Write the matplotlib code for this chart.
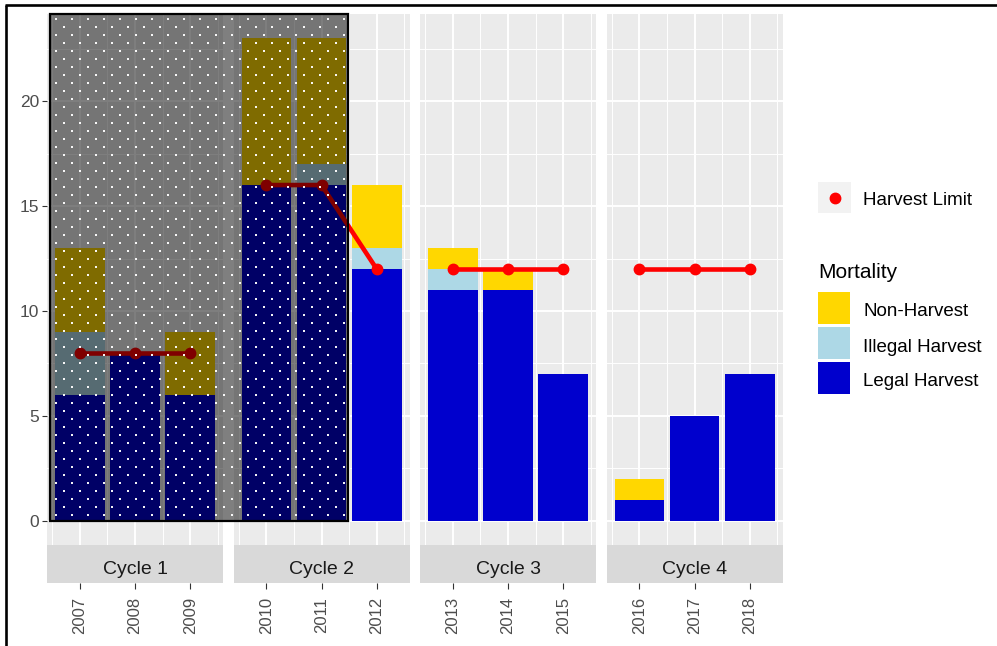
import numpy as np
import matplotlib
matplotlib.use('Agg')
import matplotlib.pyplot as plt
from matplotlib.patches import Rectangle
from matplotlib.ticker import MultipleLocator

plt.rcParams['font.family'] = ['Liberation Sans', 'DejaVu Sans']

# data
years = [2007, 2008, 2009, 2010, 2011, 2012, 2013, 2014, 2015, 2016, 2017, 2018]
cycle_names = ['Cycle 1', 'Cycle 2', 'Cycle 3', 'Cycle 4']
legal = [6, 8, 6, 16, 16, 12, 11, 11, 7, 1, 5, 7]
illegal = [3, 0, 0, 0, 1, 1, 1, 0, 0, 0, 0, 0]
non_harvest = [4, 0, 3, 7, 6, 3, 1, 1, 0, 1, 0, 0]
harvest_limit = [8, 8, 8, 16, 16, 12, 12, 12, 12, 12, 12, 12]

mort_labels = ['Non-Harvest', 'Illegal Harvest', 'Legal Harvest']
mort_colors = ['#FFD700', '#ADD8E6', '#0000CD']

FIG_W, FIG_H = 997, 646
fig = plt.figure(figsize=(FIG_W / 100, FIG_H / 100), dpi=100)
fig.patch.set_facecolor('white')


def px_box(left, top, width, height):
    return [left / FIG_W, 1 - (top + height) / FIG_H, width / FIG_W, height / FIG_H]


panel_left = [47, 233.5, 420, 606.5]
panel_w = 176
panel_top, panel_bot, strip_bot = 14, 545, 583

for i, name in enumerate(cycle_names):
    sl = slice(3 * i, 3 * i + 3)
    yrs = np.array(years[sl])
    lg = np.array(legal[sl])
    il = np.array(illegal[sl])
    nh = np.array(non_harvest[sl])
    lim = harvest_limit[sl]

    ax = fig.add_axes(px_box(panel_left[i], panel_top, panel_w, panel_bot - panel_top))
    ax.set_facecolor('#EBEBEB')
    for s in ax.spines.values():
        s.set_visible(False)
    ax.bar(yrs, lg, width=0.9, color=mort_colors[2], zorder=2)
    ax.bar(yrs, il, width=0.9, bottom=lg, color=mort_colors[1], zorder=2)
    ax.bar(yrs, nh, width=0.9, bottom=lg + il, color=mort_colors[0], zorder=2)
    ax.plot(yrs, lim, color='red', lw=3.3, marker='o', ms=7.5, zorder=3)

    xlo, xhi = yrs[0] - 0.595, yrs[-1] + 0.595
    ax.set_xlim(xlo, xhi)
    ax.set_ylim(-1.15, 24.15)
    ax.set_xticks(yrs)
    ax.set_xticks(np.append(yrs - 0.5, yrs[-1] + 0.5), minor=True)
    ax.yaxis.set_major_locator(MultipleLocator(5))
    ax.yaxis.set_minor_locator(MultipleLocator(2.5))
    ax.set_axisbelow(True)
    ax.grid(which='major', color='white', lw=1.4)
    ax.grid(which='minor', color='white', lw=0.7)
    ax.tick_params(axis='x', which='both', length=0, labelbottom=False)
    ax.tick_params(axis='y', which='minor', length=0)
    if i == 0:
        ax.tick_params(axis='y', which='major', length=3.3, width=0.8, color='#333333',
                       pad=2.5, labelsize=12.5, labelcolor='#4D4D4D')
    else:
        ax.tick_params(axis='y', which='major', length=0, labelleft=False)

    # strip below the panel, carrying the year ticks
    st = fig.add_axes(px_box(panel_left[i], panel_bot, panel_w, strip_bot - panel_bot))
    st.set_facecolor('#D9D9D9')
    for s in st.spines.values():
        s.set_visible(False)
    st.set_xlim(xlo, xhi)
    st.set_ylim(0, 1)
    st.set_yticks([])
    st.set_xticks(yrs)
    st.set_xticklabels([str(y) for y in yrs], rotation=90)
    st.tick_params(axis='x', length=4.5, width=0.8, color='#333333', pad=5.5,
                   labelsize=12, labelcolor='#4D4D4D')
    st.text(0.5, 0.24, name, transform=st.transAxes, ha='center', va='baseline',
            fontsize=14, color='#1A1A1A')

# legends, drawn in pixel space
lg_ax = fig.add_axes([0, 0, 1, 1])
lg_ax.set_xlim(0, FIG_W)
lg_ax.set_ylim(FIG_H, 0)
lg_ax.axis('off')
lg_ax.patch.set_alpha(0)

lg_ax.add_patch(Rectangle((818, 182), 33, 31, facecolor='#F2F2F2', edgecolor='none'))
lg_ax.plot([834.5], [197.5], 'o', color='red', ms=7.5)
lg_ax.text(863, 205, 'Harvest Limit', fontsize=13.5, color='black', va='baseline')

lg_ax.text(818, 278, 'Mortality', fontsize=15, color='black', va='baseline')
for k, (lab, col) in enumerate(zip(mort_labels, mort_colors)):
    top = 292 + 35 * k
    lg_ax.add_patch(Rectangle((818, top), 32, 32, facecolor=col, edgecolor='none'))
    lg_ax.text(863, top + 24.5, lab, fontsize=13.5, color='black', va='baseline')

# highlight box laid over the left part of the chart
ov = fig.add_axes([0, 0, 1, 1], zorder=10)
ov.set_xlim(0, FIG_W)
ov.set_ylim(FIG_H, 0)
ov.axis('off')
ov.patch.set_alpha(0)

bx0, by0, bx1, by1 = 50, 14, 348, 521
ov.add_patch(Rectangle((bx0, by0), bx1 - bx0, by1 - by0,
                       facecolor=(0, 0, 0, 0.5), edgecolor='black', lw=1.6))
dx, dy = [], []
r = 0
yy = 18.5
while yy < by1:
    xx = 56 + 8 * (r % 2)
    while xx < bx1:
        dx.append(xx)
        dy.append(yy)
        xx += 16
    r += 1
    yy += 8
ov.scatter(dx, dy, s=3.5, marker='s', color='white', alpha=0.95, linewidths=0)

# frame edges of the screenshot
ov.plot([5, FIG_W], [5, 5], color='black', lw=1.9, solid_capstyle='butt')
ov.plot([6, 6], [5, FIG_H], color='black', lw=1.9, solid_capstyle='butt')

fig.savefig('out.png', dpi=100)
